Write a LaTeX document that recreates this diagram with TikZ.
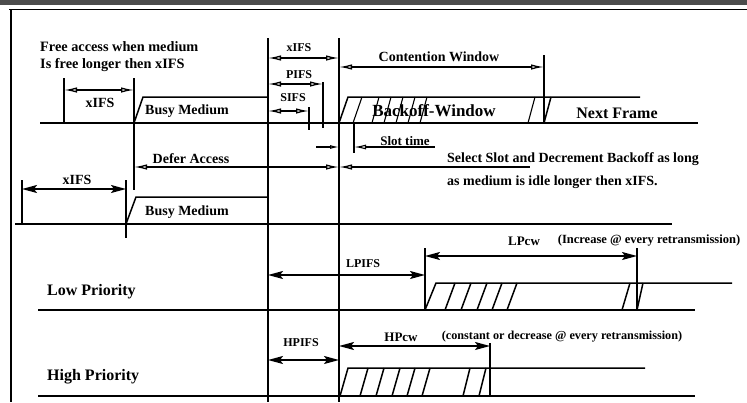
\documentclass[tikz,border=0pt]{standalone}
\usepackage{fontspec}
\setmainfont{Liberation Serif}
\usetikzlibrary{arrows.meta}
\begin{document}
\begin{tikzpicture}[x=1pt,y=-1pt,
  ln/.style={line width=1.5pt},
  base/.style={line width=2pt},
  thin/.style={line width=1.1pt},
  oarr/.style={line width=1.3pt,{Latex[open,length=13pt,width=5.5pt]}-{Latex[open,length=13pt,width=5.5pt]}},
  farr/.style={line width=1.5pt,{Stealth[length=15pt,width=8pt,inset=3pt]}-{Stealth[length=15pt,width=8pt,inset=3pt]}},
  fs/.style={inner sep=0pt,font=\bfseries\fontsize{#1}{#1}\selectfont},
]
\useasboundingbox (0,0) rectangle (747,402);
% frame
\fill[black!70] (0,0) rectangle (747,5);
\draw[line width=1.6pt] (9,9.5) -- (747,9.5);
\draw[line width=1.6pt] (11,9.5) -- (11,402);

% ---------- row 1 ----------
\node[fs=14.3,anchor=west] (free1) at (40,47) {Free access when medium};
\node[fs=14.3,anchor=west] (free2) at (40,65) {Is free longer then xIFS};
\draw[base] (40,123) -- (698,123);
\draw[ln] (64,78) -- (64,123);
\draw[ln] (134,78) -- (134,190);
\draw[oarr] (64,90) -- (134,90);
\node[fs=14] (xifsA) at (100,103) {xIFS};
\draw[ln] (134,123) -- (143,97) -- (268,97);
\node[fs=14] (busy1) at (187,111) {Busy Medium};

\draw[ln] (268,38) -- (268,402);
\draw[ln] (339,38) -- (339,402);
\draw[thin] (323,82) -- (323,128);
\draw[thin] (309,107) -- (309,130);
\draw[oarr] (268,58) -- (339,58);
\node[fs=12] (xifsT) at (299,48) {xIFS};
\draw[oarr] (268,84) -- (323,84);
\node[fs=12] (pifs) at (299,75) {PIFS};
\draw[oarr] (268,111) -- (309,111);
\node[fs=12] (sifs) at (293,98) {SIFS};

\draw[ln] (544,55) -- (544,123);
\draw[oarr] (339,67) -- (544,67);
\node[fs=14] (cw) at (439,57) {Contention Window};

\draw[ln] (339,123) -- (348,97) -- (640,97);
\draw[thin] (353,123) -- (362,97);
\foreach \b in {372,384,396,408,420} \draw[thin] (\b,123) -- (\b+7,97);
\draw[thin] (528,123) -- (535,97);
\draw[ln] (544,123) -- (551,97);
\node[fs=17] (backoff) at (434,111) {Backoff-Window};
\node[fs=16] (next) at (617,113) {Next Frame};

% slot time
\draw[thin] (354,123) -- (354,153);
\draw[thin,-{Latex[open,length=9pt,width=4pt]}] (316,147) -- (339,147);
\draw[thin,{Latex[open,length=12pt,width=5pt]}-] (354,147) -- (435,147);
\node[fs=13] (slot) at (405,141) {Slot time};

% defer access / select slot
\draw[oarr] (134,167) -- (339,167);
\node[fs=14] (defer) at (191,159) {Defer Access};
\draw[line width=1.3pt,{Latex[open,length=13pt,width=5.5pt]}-] (339,167) -- (530,167);
\node[fs=14,anchor=west] (sel1) at (447,159) {Select Slot and Decrement Backoff as long};
\node[fs=14,anchor=west] (sel2) at (447,182) {as medium is idle longer then xIFS.};

% ---------- row 2 ----------
\draw[base] (15,224) -- (672,224);
\draw[ln] (22,180) -- (22,224);
\draw[ln] (126,180) -- (126,238);
\draw[farr] (22,189) -- (126,189);
\node[fs=14] (xifsB) at (77,180) {xIFS};
\draw[ln] (126,224) -- (136,197) -- (268,197);
\node[fs=14] (busy2) at (187,212) {Busy Medium};

% ---------- low priority ----------
\draw[base] (38,310) -- (695,310);
\draw[ln] (425,248) -- (425,310);
\draw[ln] (637,248) -- (637,310);
\draw[farr] (268,275) -- (425,275);
\node[fs=12] (lpifs) at (363,264) {LPIFS};
\draw[farr] (425,256) -- (637,256);
\node[fs=13] (lpcw) at (524,241) {LPcw};
\node[fs=12.5] (lpnote) at (649,241) {(Increase @ every retransmission)};
\draw[ln] (425,310) -- (436,283) -- (732,283);
\foreach \b in {445,461,477,492,507} \draw[ln] (\b,310) -- (\b+10,283);
\draw[ln] (622,310) -- (630,283);
\draw[ln] (637,310) -- (643,283);
\node[fs=16,anchor=west] (lowp) at (47,292) {Low Priority};

% ---------- high priority ----------
\draw[base] (38,396) -- (695,396);
\draw[ln] (490,343) -- (490,397);
\draw[farr] (268,360) -- (339,360);
\node[fs=12] (hpifs) at (301,343) {HPIFS};
\draw[farr] (339,346) -- (490,346);
\node[fs=13] (hpcw) at (401,337) {HPcw};
\node[fs=12.2] (hpnote) at (562,337) {(constant or decrease @ every retransmission)};
\draw[ln] (340,396) -- (348,368) -- (645,368);
\foreach \b in {360,376,392,407,422} \draw[ln] (\b,396) -- (\b+8,368);
\draw[ln] (463,396) -- (470,368);
\draw[ln] (479,396) -- (486,368);
\node[fs=16,anchor=west] (highp) at (47,377) {High Priority};
\end{tikzpicture}
\end{document}
